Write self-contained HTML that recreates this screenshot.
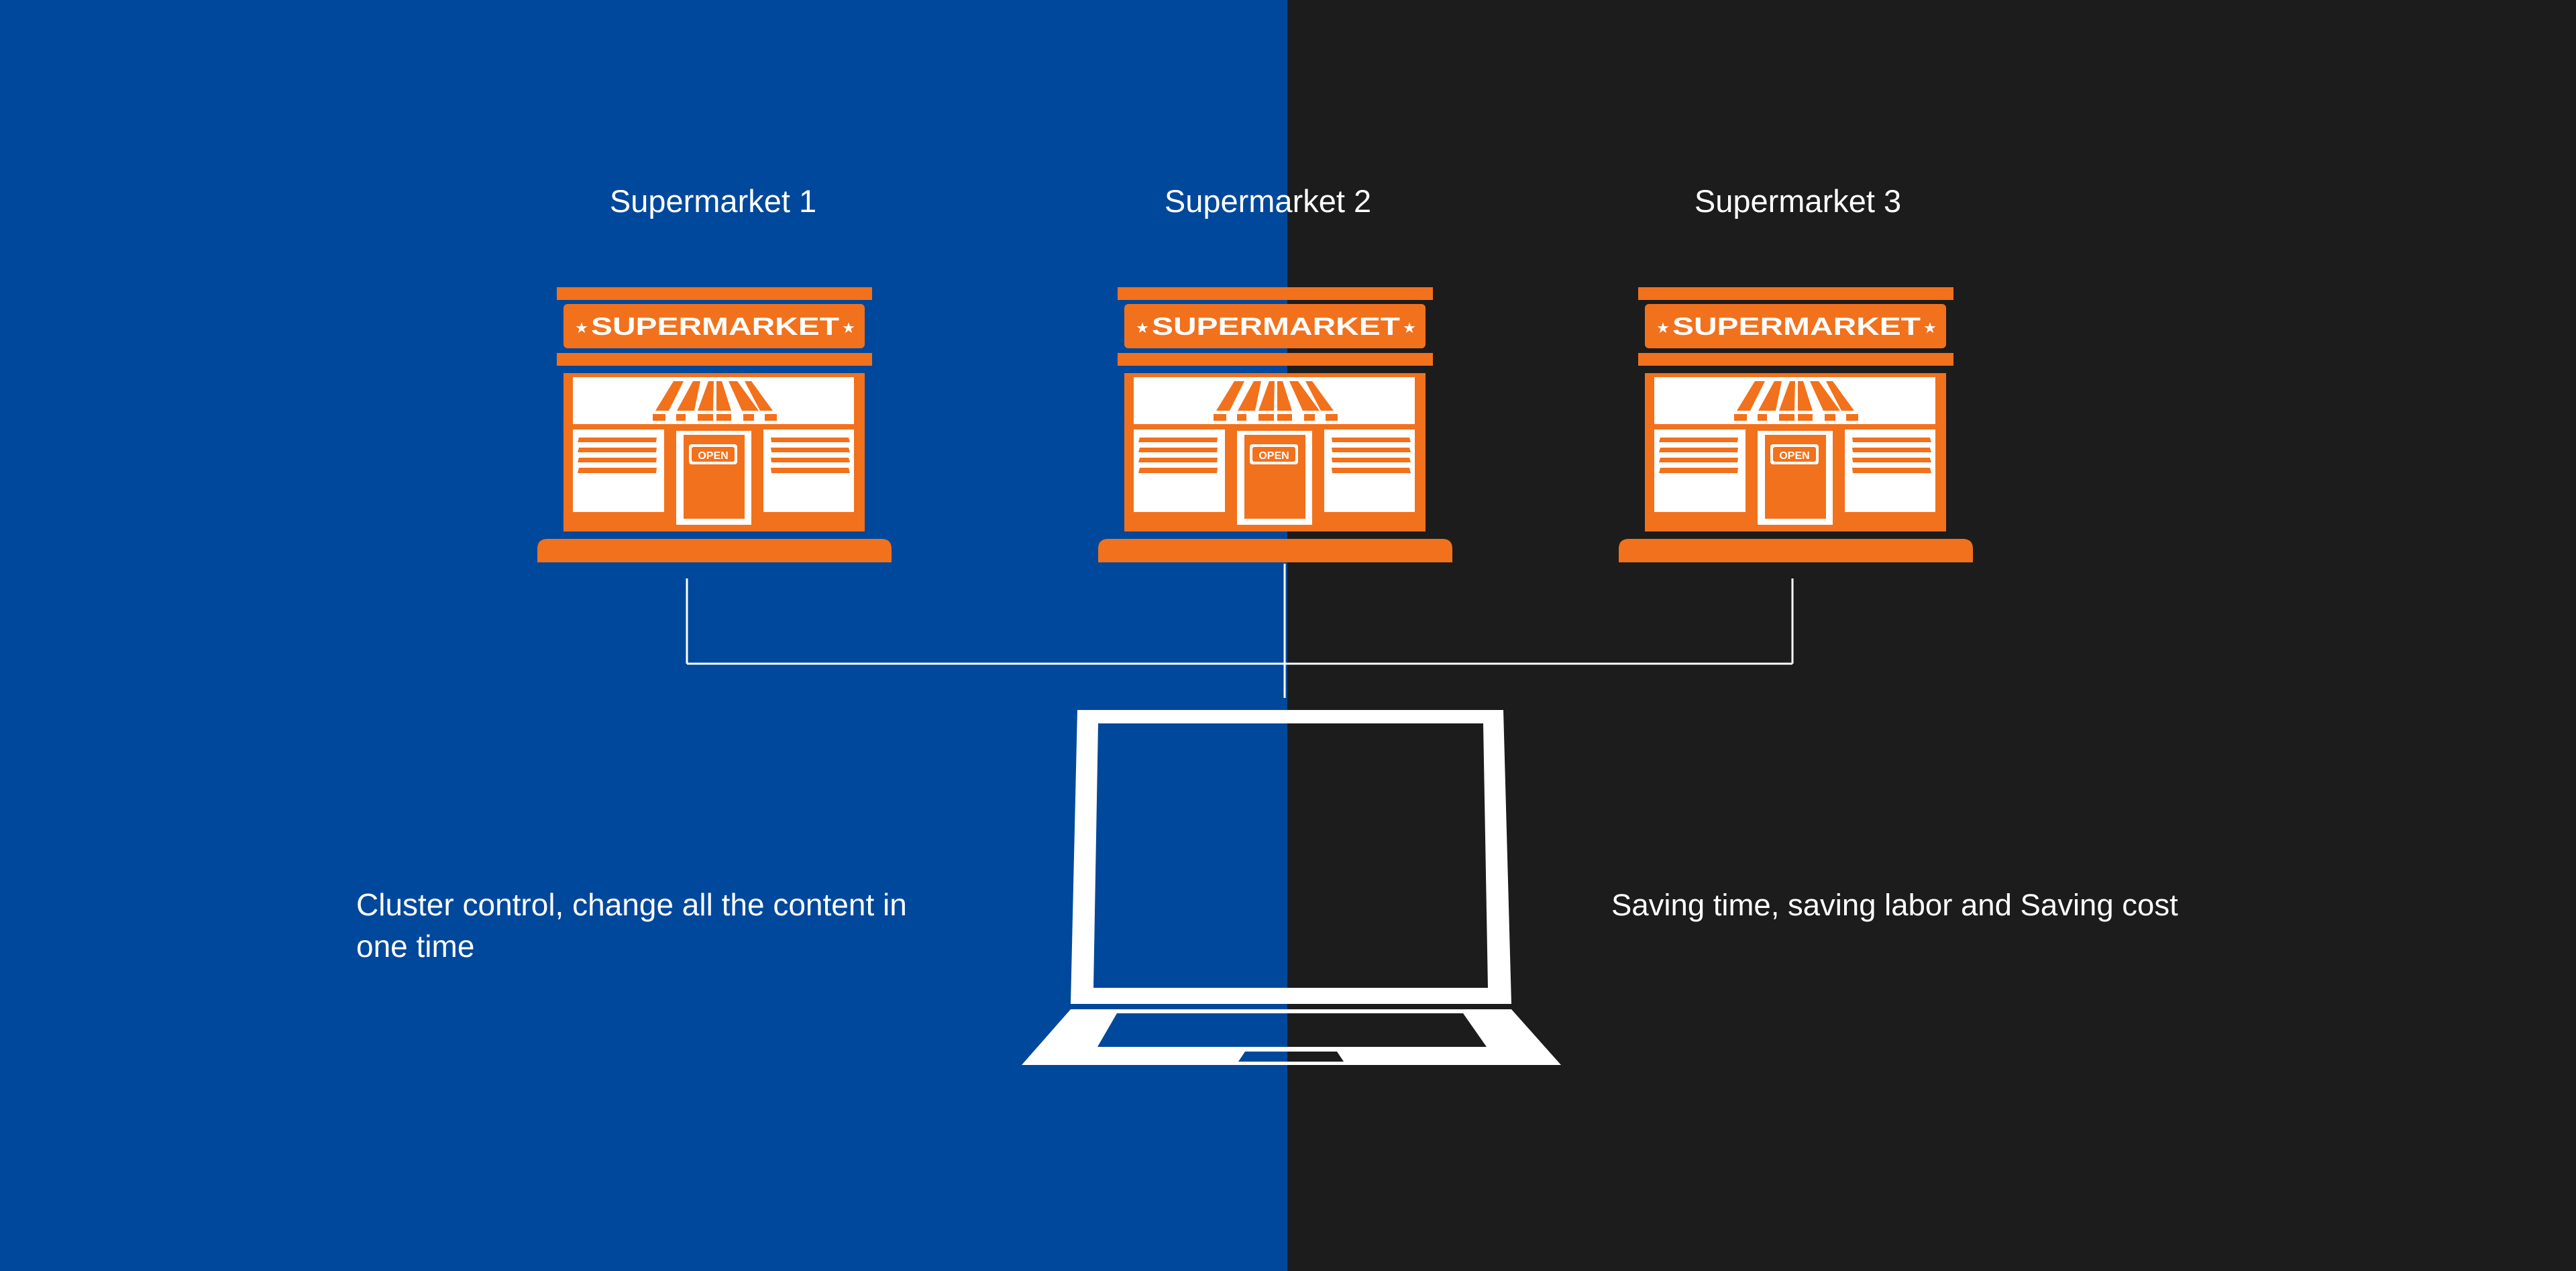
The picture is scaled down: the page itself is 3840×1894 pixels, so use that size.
<!DOCTYPE html>
<html><head><meta charset="utf-8"><style>
html,body{margin:0;padding:0;}
body{width:3840px;height:1894px;overflow:hidden;}
svg{display:block;}
.t{font-family:"Liberation Sans",sans-serif;fill:#fff;}
</style></head><body>
<svg width="3840" height="1894" viewBox="0 0 3840 1894" xmlns="http://www.w3.org/2000/svg">
<rect x="0" y="0" width="1919" height="1894" fill="#00489B"/>
<rect x="1919" y="0" width="1921" height="1894" fill="#1C1C1C"/>

<text class="t" x="1063" y="316" font-size="47" text-anchor="middle">Supermarket 1</text>
<text class="t" x="1890" y="316" font-size="47" text-anchor="middle">Supermarket 2</text>
<text class="t" x="2680" y="316" font-size="47" text-anchor="middle">Supermarket 3</text>

<g stroke="#fff" stroke-width="3" fill="none">
<line x1="1024" y1="862" x2="1024" y2="989"/>
<line x1="2672" y1="862" x2="2672" y2="989"/>
<line x1="1024" y1="989" x2="2672" y2="989"/>
<line x1="1915" y1="840" x2="1915" y2="1040"/>
</g>

<g>
<rect x="830" y="428" width="470" height="19" fill="#F2711C"/>
<rect x="840" y="453" width="449" height="66" rx="6" fill="#F2711C"/>
<text x="1066" y="499" font-family="Liberation Sans,sans-serif" font-weight="bold" font-size="37" fill="#fff" text-anchor="middle" textLength="370" lengthAdjust="spacingAndGlyphs">SUPERMARKET</text>
<text x="867" y="496" font-family="Liberation Sans,sans-serif" font-size="22" fill="#fff" text-anchor="middle">★</text>
<text x="1265" y="496" font-family="Liberation Sans,sans-serif" font-size="22" fill="#fff" text-anchor="middle">★</text>
<rect x="830" y="526" width="470" height="19" fill="#F2711C"/>
<rect x="840" y="556" width="449" height="236" fill="#F2711C"/>
<rect x="854" y="562" width="419" height="70" fill="#fff"/>
<rect x="854" y="640" width="136" height="123" fill="#fff"/>
<rect x="1138" y="640" width="135" height="123" fill="#fff"/>
<rect x="1008" y="642" width="112" height="140" fill="#fff"/>
<rect x="1019" y="648" width="91" height="125" fill="#F2711C"/>
<rect x="1027" y="662" width="72" height="30" rx="4" fill="#fff"/>
<rect x="1031" y="666" width="64" height="22" rx="3" fill="#F2711C"/>
<text x="1063" y="684" font-family="Liberation Sans,sans-serif" font-weight="bold" font-size="16" fill="#fff" text-anchor="middle">OPEN</text>
<g fill="#F2711C">
<polygon points="1004,568 1019,568 997,612 977,612"/>
<polygon points="1033,568 1044,568 1035,612 1009,612"/>
<polygon points="1056,568 1064,568 1063,612 1040,612"/>
<polygon points="1068,568 1076,568 1090,612 1068,612"/>
<polygon points="1086,568 1099,568 1131,612 1106,612"/>
<polygon points="1110,568 1120,568 1152,612 1133,612"/>
<rect x="973" y="617" width="19" height="10"/>
<rect x="1008" y="617" width="14" height="10"/>
<rect x="1040" y="617" width="23" height="10"/>
<rect x="1068" y="617" width="22" height="10"/>
<rect x="1108" y="617" width="16" height="10"/>
<rect x="1140" y="617" width="18" height="10"/>
<polygon points="863,652 979,652 978,659 861,659"/>
<polygon points="863,667 979,667 978,674 861,674"/>
<polygon points="863,682 979,682 978,689 861,689"/>
<polygon points="863,697 979,697 978,705 861,705"/>
<polygon points="1149,652 1265,652 1267,659 1150,659"/>
<polygon points="1149,667 1265,667 1267,674 1150,674"/>
<polygon points="1149,682 1265,682 1267,689 1150,689"/>
<polygon points="1149,697 1265,697 1267,705 1150,705"/>
<path d="M801,838 L801,818 Q801,803 816,803 L1314,803 Q1329,803 1329,818 L1329,838 Z"/>
</g>
</g>

<g transform="translate(836,0)">
<rect x="830" y="428" width="470" height="19" fill="#F2711C"/>
<rect x="840" y="453" width="449" height="66" rx="6" fill="#F2711C"/>
<text x="1066" y="499" font-family="Liberation Sans,sans-serif" font-weight="bold" font-size="37" fill="#fff" text-anchor="middle" textLength="370" lengthAdjust="spacingAndGlyphs">SUPERMARKET</text>
<text x="867" y="496" font-family="Liberation Sans,sans-serif" font-size="22" fill="#fff" text-anchor="middle">★</text>
<text x="1265" y="496" font-family="Liberation Sans,sans-serif" font-size="22" fill="#fff" text-anchor="middle">★</text>
<rect x="830" y="526" width="470" height="19" fill="#F2711C"/>
<rect x="840" y="556" width="449" height="236" fill="#F2711C"/>
<rect x="854" y="562" width="419" height="70" fill="#fff"/>
<rect x="854" y="640" width="136" height="123" fill="#fff"/>
<rect x="1138" y="640" width="135" height="123" fill="#fff"/>
<rect x="1008" y="642" width="112" height="140" fill="#fff"/>
<rect x="1019" y="648" width="91" height="125" fill="#F2711C"/>
<rect x="1027" y="662" width="72" height="30" rx="4" fill="#fff"/>
<rect x="1031" y="666" width="64" height="22" rx="3" fill="#F2711C"/>
<text x="1063" y="684" font-family="Liberation Sans,sans-serif" font-weight="bold" font-size="16" fill="#fff" text-anchor="middle">OPEN</text>
<g fill="#F2711C">
<polygon points="1004,568 1019,568 997,612 977,612"/>
<polygon points="1033,568 1044,568 1035,612 1009,612"/>
<polygon points="1056,568 1064,568 1063,612 1040,612"/>
<polygon points="1068,568 1076,568 1090,612 1068,612"/>
<polygon points="1086,568 1099,568 1131,612 1106,612"/>
<polygon points="1110,568 1120,568 1152,612 1133,612"/>
<rect x="973" y="617" width="19" height="10"/>
<rect x="1008" y="617" width="14" height="10"/>
<rect x="1040" y="617" width="23" height="10"/>
<rect x="1068" y="617" width="22" height="10"/>
<rect x="1108" y="617" width="16" height="10"/>
<rect x="1140" y="617" width="18" height="10"/>
<polygon points="863,652 979,652 978,659 861,659"/>
<polygon points="863,667 979,667 978,674 861,674"/>
<polygon points="863,682 979,682 978,689 861,689"/>
<polygon points="863,697 979,697 978,705 861,705"/>
<polygon points="1149,652 1265,652 1267,659 1150,659"/>
<polygon points="1149,667 1265,667 1267,674 1150,674"/>
<polygon points="1149,682 1265,682 1267,689 1150,689"/>
<polygon points="1149,697 1265,697 1267,705 1150,705"/>
<path d="M801,838 L801,818 Q801,803 816,803 L1314,803 Q1329,803 1329,818 L1329,838 Z"/>
</g>
</g>

<g transform="translate(1612,0)">
<rect x="830" y="428" width="470" height="19" fill="#F2711C"/>
<rect x="840" y="453" width="449" height="66" rx="6" fill="#F2711C"/>
<text x="1066" y="499" font-family="Liberation Sans,sans-serif" font-weight="bold" font-size="37" fill="#fff" text-anchor="middle" textLength="370" lengthAdjust="spacingAndGlyphs">SUPERMARKET</text>
<text x="867" y="496" font-family="Liberation Sans,sans-serif" font-size="22" fill="#fff" text-anchor="middle">★</text>
<text x="1265" y="496" font-family="Liberation Sans,sans-serif" font-size="22" fill="#fff" text-anchor="middle">★</text>
<rect x="830" y="526" width="470" height="19" fill="#F2711C"/>
<rect x="840" y="556" width="449" height="236" fill="#F2711C"/>
<rect x="854" y="562" width="419" height="70" fill="#fff"/>
<rect x="854" y="640" width="136" height="123" fill="#fff"/>
<rect x="1138" y="640" width="135" height="123" fill="#fff"/>
<rect x="1008" y="642" width="112" height="140" fill="#fff"/>
<rect x="1019" y="648" width="91" height="125" fill="#F2711C"/>
<rect x="1027" y="662" width="72" height="30" rx="4" fill="#fff"/>
<rect x="1031" y="666" width="64" height="22" rx="3" fill="#F2711C"/>
<text x="1063" y="684" font-family="Liberation Sans,sans-serif" font-weight="bold" font-size="16" fill="#fff" text-anchor="middle">OPEN</text>
<g fill="#F2711C">
<polygon points="1004,568 1019,568 997,612 977,612"/>
<polygon points="1033,568 1044,568 1035,612 1009,612"/>
<polygon points="1056,568 1064,568 1063,612 1040,612"/>
<polygon points="1068,568 1076,568 1090,612 1068,612"/>
<polygon points="1086,568 1099,568 1131,612 1106,612"/>
<polygon points="1110,568 1120,568 1152,612 1133,612"/>
<rect x="973" y="617" width="19" height="10"/>
<rect x="1008" y="617" width="14" height="10"/>
<rect x="1040" y="617" width="23" height="10"/>
<rect x="1068" y="617" width="22" height="10"/>
<rect x="1108" y="617" width="16" height="10"/>
<rect x="1140" y="617" width="18" height="10"/>
<polygon points="863,652 979,652 978,659 861,659"/>
<polygon points="863,667 979,667 978,674 861,674"/>
<polygon points="863,682 979,682 978,689 861,689"/>
<polygon points="863,697 979,697 978,705 861,705"/>
<polygon points="1149,652 1265,652 1267,659 1150,659"/>
<polygon points="1149,667 1265,667 1267,674 1150,674"/>
<polygon points="1149,682 1265,682 1267,689 1150,689"/>
<polygon points="1149,697 1265,697 1267,705 1150,705"/>
<path d="M801,838 L801,818 Q801,803 816,803 L1314,803 Q1329,803 1329,818 L1329,838 Z"/>
</g>
</g>

<path fill="#fff" fill-rule="evenodd" d="M1606,1058 L2241,1058 L2253,1496 L1596,1496 Z M1637,1078 L2211,1078 L2218,1472 L1630,1472 Z"/>
<path fill="#fff" fill-rule="evenodd" d="M1596,1504 L2253,1504 L2327,1587 L1523,1587 Z M1665,1510 L2181,1510 L2216,1560 L1636,1560 Z M1856,1567 L1993,1567 L2003,1582 L1846,1582 Z"/>

<text class="t" x="531" y="1364" font-size="46">Cluster control, change all the content in</text>
<text class="t" x="531" y="1426" font-size="46">one time</text>
<text class="t" x="2402" y="1364" font-size="45.5">Saving time, saving labor and Saving cost</text>
</svg>
</body></html>
